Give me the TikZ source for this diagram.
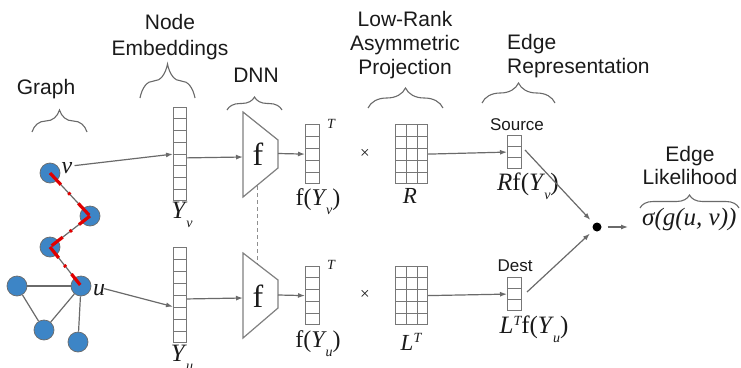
\documentclass[tikz,border=0pt]{standalone}
\usepackage{fontspec}
\setmainfont{Liberation Sans}
\newfontfamily\tms{Liberation Serif}
\usetikzlibrary{arrows.meta,decorations.pathreplacing,calc}
\definecolor{edgegray}{HTML}{6A6A6A}
\definecolor{cellgray}{HTML}{777777}
\definecolor{nodeblue}{HTML}{3D85C6}
\definecolor{pathred}{HTML}{E00000}
\definecolor{txt}{HTML}{1A1A1A}
\newcommand\lowsub[1]{\kern-1pt\raisebox{-9pt}{\fontsize{14}{14}\selectfont\itshape #1}}
\newcommand\hiT{\raisebox{8pt}{\fontsize{14}{14}\selectfont\itshape T}}
\newcommand\cellvec[6]{% name, x, ytop, w, h, cells
  \node[cellbox, anchor=north west, minimum width=#4pt, minimum height=#5pt] (#1) at (#2,#3) {};
  \foreach \i in {1,...,\numexpr#6-1\relax}{
    \draw[cellline] ($(#1.north west)!\i/#6!(#1.south west)$) -- ($(#1.north east)!\i/#6!(#1.south east)$);}
}
\newcommand\cellmat[5]{% name, x, ytop, w, h  (3 cols, 5 rows)
  \node[cellbox, anchor=north west, minimum width=#4pt, minimum height=#5pt] (#1) at (#2,#3) {};
  \foreach \i in {1,...,4}{
    \draw[cellline] ($(#1.north west)!\i/5!(#1.south west)$) -- ($(#1.north east)!\i/5!(#1.south east)$);}
  \foreach \i in {1,2}{
    \draw[cellline] ($(#1.north west)!\i/3!(#1.north east)$) -- ($(#1.south west)!\i/3!(#1.south east)$);}
}
\begin{document}
\begin{tikzpicture}[x=1pt,y=-1pt,
  conn/.style={draw=edgegray, line width=1.2pt},
  arr/.style={conn, -{Latex[length=7pt,width=5pt]}},
  gnode/.style={circle, fill=nodeblue, draw=edgegray, line width=0.7pt, minimum size=20pt, inner sep=0},
  redseg/.style={draw=pathred, line width=3.2pt},
  cellbox/.style={draw=cellgray, line width=1.2pt, inner sep=0, fill=white},
  cellline/.style={draw=cellgray, line width=1pt},
  brc/.style={draw=edgegray, line width=1.1pt, decorate, decoration={brace, amplitude=#1}},
  lbl/.style={font=\fontsize{21}{25}\selectfont, text=txt, inner sep=0},
  small/.style={font=\fontsize{17}{17}\selectfont, text=txt, inner sep=0},
  mth/.style={font=\tms\fontsize{#1}{#1}\selectfont, text=txt, inner sep=0},
  trap/.style={draw=edgegray!85, line width=1.2pt, fill=white},
  tie/.style={draw=edgegray!75, line width=1pt, dash pattern=on 4pt off 3pt}
]
\useasboundingbox (0,0) rectangle (741,367);

% ---------- headings ----------
\node[lbl, anchor=base] (tgraph) at (46,94) {Graph};
\node[lbl, anchor=north, align=center, font=\fontsize{21}{26}\selectfont] (temb) at (170,14) {Node\\Embeddings};
\node[lbl, anchor=base] (tdnn) at (256,82) {DNN};
\node[lbl, anchor=north, align=center, font=\fontsize{21}{24}\selectfont] (tlow) at (405,11) {Low-Rank\\Asymmetric\\Projection};
\node[lbl, anchor=north west, align=left, font=\fontsize{21}{24}\selectfont] (trep) at (507,34) {Edge\\Representation};
\node[lbl, anchor=north, align=center, font=\fontsize{21}{23.5}\selectfont] (tlik) at (690,146) {Edge\\Likelihood};

% ---------- braces ----------
\draw[brc=22pt] (32,132) -- (87,132);
\draw[brc=34pt] (140,98) -- (195,98);
\draw[brc=13pt] (227,110) -- (282,110);
\draw[brc=20pt] (368,108) -- (443,108);
\draw[brc=20pt] (482,103) -- (555,103);
\draw[brc=13pt] (640,208) -- (739,208);

% ---------- graph ----------
\node[gnode] (gv) at (50,173) {};
\node[gnode] (g2) at (90,216) {};
\node[gnode] (g3) at (50,247) {};
\node[gnode] (gu) at (81,286) {};
\node[gnode] (gl) at (17,286) {};
\node[gnode] (gb) at (44,330) {};
\node[gnode] (gr) at (78,342) {};
\draw[conn] (gv) -- (g2);
\draw[conn] (g2) -- (g3);
\draw[conn] (g3) -- (gu);
\draw[conn] (gl) -- (gu);
\draw[conn] (gl) -- (gb);
\draw[conn] (gb) -- (gu);
\draw[conn] (gu) -- (gr);
\draw[redseg, dash pattern=on 16pt off 11pt on 2.5pt off 12pt] (gv.center) -- (g2.center);
\draw[redseg, dash pattern=on 14pt off 9pt on 2.5pt off 9pt] (g2.center) -- (g3.center);
\draw[redseg, dash pattern=on 14pt off 9pt on 2.5pt off 9pt] (g3.center) -- (gu.center);
\node[mth=24, font=\tms\itshape\fontsize{24}{24}\selectfont, anchor=base] (vlab) at (67,173) {v};
\node[mth=24, font=\tms\itshape\fontsize{24}{24}\selectfont, anchor=base] (ulab) at (99,295) {u};

% ---------- node embeddings ----------
\cellvec{Yv}{173}{107}{13}{93}{8}
\cellvec{Yu}{173}{247}{13}{95}{8}
\node[mth=25, anchor=base] (yvl) at (182,218) {\textit{Y}\lowsub{v}};
\node[mth=25, anchor=base] (yul) at (182,361) {\textit{Y}\lowsub{u}};
\draw[arr] ($(vlab.east)+(2,-2)$) -- (Yv.west);
\draw[arr] ($(ulab.east)+(-1,-1)$) -- ($(Yu.north west)!0.62!(Yu.south west)$);

% ---------- DNN ----------
\draw[tie] (257,186) -- (257,264);
\draw[trap] (243,112) -- (278,140) -- (278,168) -- (243,197) -- cycle;
\draw[trap] (243,253) -- (278,280) -- (278,308) -- (243,338) -- cycle;
\node[mth=32, anchor=base] (ftop) at (258,165) {f};
\node[mth=32, anchor=base] (fbot) at (258,307) {f};
\coordinate (tinT) at (243,157);
\coordinate (tinB) at (243,298);
\coordinate (toutT) at (278,153.5);
\coordinate (toutB) at (278,295);
\draw[arr] ($(Yv.north east)!0.54!(Yv.south east)$) -- (tinT);
\draw[arr] ($(Yu.north east)!0.54!(Yu.south east)$) -- (tinB);

% ---------- f vectors ----------
\cellvec{fv}{305}{124}{14}{59}{5}
\cellvec{fu}{305}{266}{14}{58}{5}
\draw[arr] (toutT) -- (fv.west);
\draw[arr] (toutB) -- (fu.west);
\node[mth=14, font=\tms\itshape\fontsize{14}{14}\selectfont, anchor=base] (tT1) at (331,128) {T};
\node[mth=14, font=\tms\itshape\fontsize{14}{14}\selectfont, anchor=base] (tT2) at (331,269) {T};
\node[mth=24, anchor=base] (fvl) at (318,205) {f(\textit{Y}\lowsub{v})};
\node[mth=24, anchor=base] (ful) at (318,347) {f(\textit{Y}\lowsub{u})};
\node[mth=17, anchor=center] (x1) at (365,154) {×};
\node[mth=17, anchor=center] (x2) at (365,295) {×};

% ---------- projection matrices ----------
\cellmat{R}{395}{124}{32}{59}
\cellmat{L}{395}{266}{32}{58}
\node[mth=23, anchor=base] (rl) at (410,203) {\textit{R}};
\node[mth=23, anchor=base] (ll) at (411,350) {\textit{L}\hiT};

% ---------- edge representation ----------
\node[small, anchor=base] (tsrc) at (517,130) {Source};
\node[small, anchor=base] (tdst) at (515,271) {Dest};
\cellvec{src}{507}{135}{14}{33}{3}
\cellvec{dst}{507}{277}{14}{33}{3}
\draw[arr] (R.east) -- (src.west);
\draw[arr] (L.east) -- (dst.west);
\node[mth=25, anchor=base] (rfl) at (528,190) {\textit{R}f(\textit{Y}\lowsub{v})};
\node[mth=25, anchor=base] (lfl) at (534,333) {\textit{L}\hiT f(\textit{Y}\lowsub{u})};

% ---------- combination ----------
\node[circle, fill=black, minimum size=9pt, inner sep=0] (dot) at (597,227) {};
\coordinate (srcout) at (525,150);
\coordinate (dstout) at (527,292);
\draw[arr, shorten >=5pt] (srcout) -- (dot);
\draw[arr, shorten >=5pt] (dstout) -- (dot);
\node[mth=25, font=\tms\itshape\fontsize{25}{25}\selectfont, anchor=base west] (sig) at (642,225) {σ(g(u, v))};
\draw[arr, shorten <=6pt, shorten >=14pt] (dot) -- (sig.west |- dot);
\end{tikzpicture}
\end{document}
